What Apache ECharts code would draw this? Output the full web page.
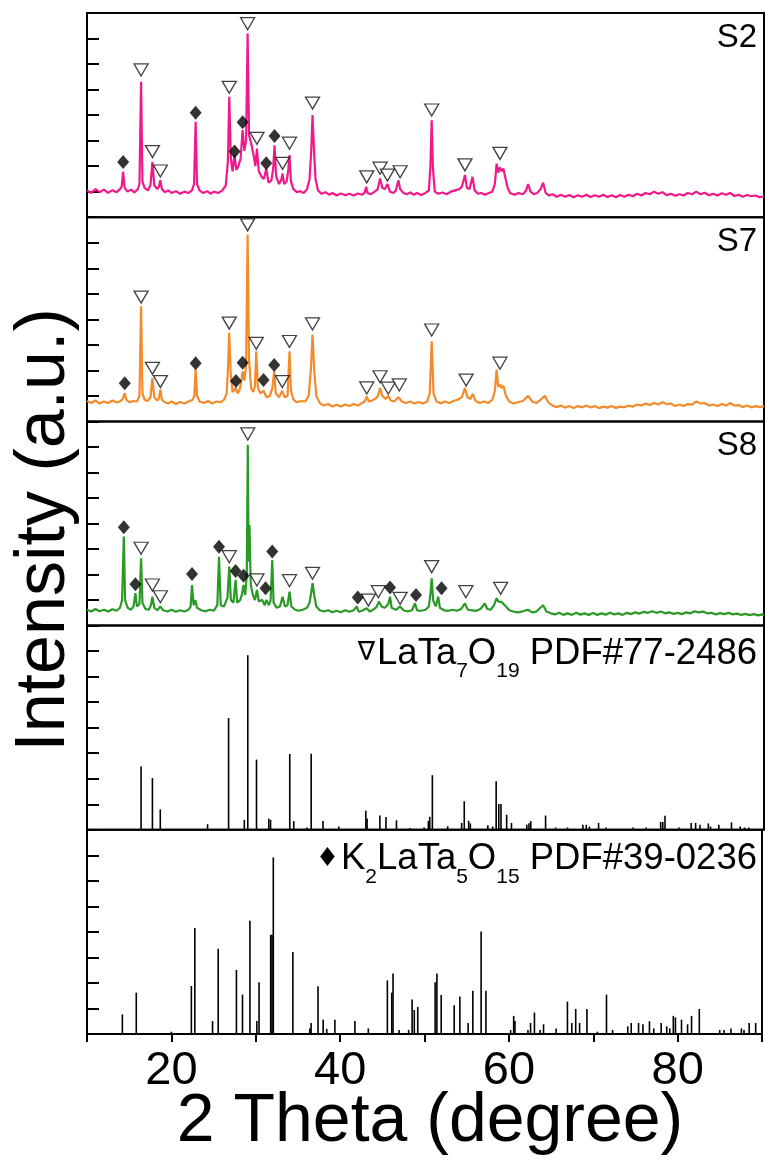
<!DOCTYPE html>
<html>
<head>
<meta charset="utf-8">
<script src="https://cdn.jsdelivr.net/npm/echarts@6/dist/echarts.min.js"></script>
<style>
  html, body { margin: 0; padding: 0; background: #fff; }
  #chart { width: 765px; height: 1162px; }
</style>
</head>
<body>
<div id="chart"></div>
<script>
// 2θ range and tick labels of the shared x axis
const thetaMin = 10;
const thetaMax = 90;
const thetaLabels = [20, 40, 60, 80];

const sampleNames = ["S2", "S7", "S8"];

// measured patterns, [2theta, intensity] (a.u., panel units 0..8)
const s2 = [[10,1.05],[10.5,0.95],[11,1.1],[11.5,0.98],[12,1.08],[12.5,0.95],[13,1.06],[13.5,0.98],[13.9,1.1],
  [14.1,1.2],[14.27,1.78],[14.45,1.15],[14.8,1.0],[15.2,1.08],[15.6,0.97],[16.0,1.1],
  [16.2,1.3],[16.39,5.31],[16.55,1.4],[16.8,1.15],[17.2,1.05],[17.5,1.25],[17.73,2.17],[17.95,1.25],[18.3,1.1],[18.5,1.2],[18.67,1.45],[18.85,1.1],
  [19.2,0.98],[19.6,1.05],[20,0.95],[20.5,1.02],[21,0.92],[21.5,1.0],[22,0.95],[22.4,1.05],
  [22.65,1.3],[22.84,3.74],[23.0,1.3],[23.3,1.05],[23.7,0.95],[24.2,1.02],[24.6,0.92],[25,1.0],[25.5,0.95],[26,1.05],[26.4,1.25],
  [26.65,2.2],[26.81,4.72],[27.0,2.3],[27.2,1.8],[27.44,2.43],[27.65,1.85],[27.9,2.0],[28.15,2.3],[28.39,3.41],[28.6,2.6],[28.8,3.0],
  [28.98,7.2],[29.15,3.2],[29.4,2.9],[29.7,2.4],[29.9,2.0],[30.08,2.69],[30.3,1.8],[30.6,1.6],[30.9,1.5],[31.18,1.9],[31.45,1.35],
  [31.8,1.45],[32.0,1.9],[32.16,2.82],[32.35,1.6],[32.7,1.3],[32.95,1.45],[33.11,1.71],[33.3,1.3],[33.6,1.4],[33.8,1.9],[33.93,2.43],
  [34.1,1.4],[34.4,1.1],[34.8,0.98],[35.2,1.02],[35.6,0.95],[36.0,1.1],[36.3,1.5],[36.5,2.6],[36.65,4.0],[36.8,2.8],[37.0,1.5],
  [37.3,1.05],[37.7,0.92],[38.2,0.98],[38.6,0.88],[39,0.95],[39.5,0.85],[40,0.93],[40.5,0.86],[41,0.92],[41.5,0.85],[42,0.93],
  [42.5,0.88],[42.8,0.95],[42.98,1.19],[43.15,0.95],[43.5,0.9],[44,1.0],[44.35,1.1],[44.63,1.52],[44.9,1.15],[45.2,1.1],[45.5,1.3],
  [45.8,1.0],[46.2,0.95],[46.5,1.05],[46.8,1.45],[47.0,1.1],[47.4,0.95],[47.8,0.9],[48.2,0.97],[48.6,0.88],[49,0.95],[49.5,0.87],
  [50,0.95],[50.4,1.05],[50.58,2.0],[50.73,3.8],[50.88,1.9],[51.1,1.0],[51.5,0.92],[52,0.97],[52.5,0.9],[53,1.0],[53.5,1.05],
  [54.0,1.1],[54.3,1.2],[54.66,1.65],[54.9,1.15],[55.2,1.1],[55.56,1.58],[55.8,1.05],[56.2,0.92],[56.6,0.95],[57,0.88],[57.5,0.95],
  [57.9,1.0],[58.2,1.3],[58.4,2.1],[58.6,1.75],[58.8,1.95],[59.0,1.8],[59.2,1.9],[59.4,1.6],[59.7,1.15],[60,0.95],[60.5,0.88],
  [61,0.95],[61.5,0.9],[61.9,1.05],[62.13,1.3],[62.4,1.0],[62.8,0.9],[63.2,0.95],[63.6,1.1],[63.9,1.35],[64.2,0.95],[64.6,0.85],
  [65,0.9],[65.5,0.8],[66,0.88],[66.5,0.8],[67,0.87],[67.5,0.78],[68,0.86],[68.5,0.8],[69,0.88],[69.5,0.79],[70,0.86],[70.5,0.8],
  [71,0.88],[71.5,0.79],[72,0.86],[72.5,0.78],[73,0.87],[73.5,0.8],[74,0.88],[74.5,0.82],[75,0.92],[75.5,0.85],[76,0.95],[76.5,0.9],
  [77,1.0],[77.5,0.92],[78,0.98],[78.5,0.86],[79,0.92],[79.5,0.84],[80,0.9],[80.5,0.85],[81,0.95],[81.5,0.9],[82,1.0],[82.5,0.9],
  [83,0.96],[83.5,0.86],[84,0.92],[84.5,0.85],[85,0.94],[85.5,0.88],[86,0.95],[86.5,0.83],[87,0.88],[87.5,0.8],[88,0.87],[88.5,0.82],
  [89,0.85],[89.5,0.78],[90,0.82]];

const s7 = [[10,0.8],[10.5,0.72],[11,0.82],[11.5,0.7],[12,0.78],[12.5,0.72],[13,0.82],[13.5,0.74],[14,0.8],[14.25,0.9],[14.46,1.11],
  [14.65,0.85],[15,0.75],[15.5,0.8],[15.9,0.78],[16.2,1.0],[16.39,4.51],[16.55,1.1],[16.8,0.85],[17.2,0.8],[17.5,0.95],[17.73,1.7],
  [17.95,0.95],[18.3,0.82],[18.5,0.9],[18.67,1.24],[18.85,0.85],[19.2,0.75],[19.6,0.7],[20,0.78],[20.5,0.68],[21,0.76],[21.5,0.7],
  [22,0.78],[22.5,0.85],[22.68,1.0],[22.84,2.03],[23.0,1.0],[23.3,0.78],[23.8,0.72],[24.3,0.8],[24.8,0.7],[25.3,0.78],[25.8,0.75],
  [26.2,0.85],[26.5,1.1],[26.65,2.0],[26.81,3.47],[26.98,1.9],[27.2,1.15],[27.4,1.1],[27.6,1.31],[27.8,1.1],[28.0,1.2],[28.2,1.5],
  [28.39,1.96],[28.6,1.6],[28.8,2.2],[28.98,7.32],[29.15,2.4],[29.4,1.3],[29.65,1.15],[29.85,1.4],[30.0,2.75],[30.2,1.3],[30.5,1.1],
  [30.86,1.2],[31.2,0.95],[31.6,1.0],[31.9,1.3],[32.12,1.96],[32.3,1.1],[32.7,0.95],[33.07,1.2],[33.35,0.95],[33.7,1.0],[33.93,2.75],
  [34.1,1.2],[34.4,0.85],[34.8,0.75],[35.3,0.8],[35.8,0.78],[36.2,1.0],[36.45,2.0],[36.65,3.4],[36.85,2.0],[37.1,1.0],[37.5,0.72],
  [38,0.62],[38.5,0.68],[39,0.58],[39.5,0.65],[40,0.58],[40.5,0.66],[41,0.6],[41.5,0.68],[42,0.62],[42.5,0.72],[42.85,0.8],
  [43.06,0.98],[43.3,0.78],[43.7,0.82],[44.1,0.9],[44.4,1.0],[44.63,1.31],[44.9,1.0],[45.3,0.88],[45.6,1.0],[45.9,0.82],[46.3,0.78],
  [46.8,0.95],[47.2,0.78],[47.7,0.72],[48.2,0.78],[48.7,0.7],[49.2,0.76],[49.7,0.7],[50.2,0.78],[50.5,1.1],[50.73,3.14],[50.95,1.1],
  [51.3,0.78],[51.8,0.7],[52.3,0.78],[52.8,0.72],[53.3,0.8],[53.8,0.85],[54.3,0.95],[54.66,1.31],[54.95,0.95],[55.3,0.88],[55.6,1.08],
  [55.9,0.8],[56.4,0.72],[56.9,0.78],[57.4,0.72],[57.9,0.85],[58.2,1.2],[58.4,2.03],[58.6,1.35],[58.8,1.45],[59.0,1.3],[59.2,1.4],
  [59.5,1.0],[59.9,0.78],[60.4,0.7],[60.9,0.75],[61.5,0.8],[62.13,1.0],[62.6,0.78],[63.1,0.72],[63.6,0.85],[64.1,1.0],[64.5,0.75],
  [65,0.62],[65.5,0.56],[66,0.62],[66.5,0.54],[67,0.6],[67.5,0.52],[68,0.6],[68.5,0.55],[69,0.62],[69.5,0.55],[70,0.6],[70.5,0.52],
  [71,0.58],[71.5,0.54],[72,0.6],[72.5,0.53],[73,0.58],[73.5,0.55],[74,0.62],[74.5,0.58],[75,0.66],[75.5,0.62],[76,0.7],[76.5,0.64],
  [77,0.72],[77.5,0.66],[78,0.75],[78.5,0.68],[79,0.7],[79.5,0.6],[80,0.66],[80.5,0.6],[81,0.68],[81.5,0.66],[82,0.78],[82.5,0.7],
  [83,0.72],[83.5,0.62],[84,0.66],[84.5,0.6],[85,0.68],[85.5,0.62],[86,0.72],[86.5,0.62],[87,0.64],[87.5,0.56],[88,0.62],[88.5,0.55],
  [89,0.6],[89.5,0.56],[90,0.6]];

const s8 = [[10,0.62],[10.5,0.55],[11,0.65],[11.5,0.56],[12,0.62],[12.5,0.55],[13,0.64],[13.5,0.58],[13.9,0.7],[14.15,1.0],[14.35,3.49],
  [14.5,1.0],[14.8,0.7],[15.2,0.62],[15.5,0.75],[15.72,1.27],[15.9,0.75],[16.2,0.85],[16.39,2.64],[16.55,0.9],[16.9,0.65],[17.3,0.62],
  [17.55,0.8],[17.73,1.13],[17.95,0.7],[18.3,0.6],[18.67,0.75],[19,0.6],[19.5,0.55],[20,0.62],[20.5,0.54],[21,0.6],[21.5,0.55],
  [22,0.62],[22.25,0.75],[22.41,1.59],[22.6,0.8],[22.8,1.0],[23.0,0.7],[23.5,0.6],[24,0.56],[24.5,0.62],[25,0.58],[25.4,0.8],
  [25.6,2.7],[25.8,0.8],[26.2,0.75],[26.6,1.1],[26.81,2.31],[27.0,1.0],[27.3,0.9],[27.56,1.79],[27.75,0.9],[28.1,1.0],[28.3,1.2],
  [28.5,1.59],[28.7,1.2],[28.88,2.0],[29.0,7.08],[29.1,2.5],[29.2,3.94],[29.35,1.6],[29.6,1.2],[29.85,1.0],[30.08,1.4],[30.3,0.95],
  [30.7,1.0],[31.0,0.8],[31.2,1.0],[31.5,0.8],[31.7,1.0],[31.89,2.57],[32.05,0.9],[32.4,0.7],[32.8,0.75],[33.11,1.13],[33.4,0.75],
  [33.7,0.8],[33.93,1.33],[34.15,0.75],[34.6,0.62],[35,0.58],[35.5,0.62],[36,0.7],[36.3,0.9],[36.5,1.3],[36.65,1.66],[36.85,1.2],
  [37.1,0.75],[37.5,0.6],[38,0.55],[38.5,0.6],[39,0.52],[39.5,0.58],[40,0.52],[40.5,0.6],[41,0.54],[41.5,0.6],[41.88,0.75],
  [42.1,0.55],[42.5,0.58],[43.06,0.68],[43.4,0.55],[43.8,0.62],[44.2,0.72],[44.5,0.94],[44.8,0.75],[45.2,0.7],[45.6,0.85],[45.81,1.13],
  [46.0,0.7],[46.5,0.62],[47.0,0.75],[47.4,0.6],[47.9,0.55],[48.4,0.6],[48.76,0.87],[49.0,0.6],[49.5,0.58],[50.0,0.62],[50.4,0.75],
  [50.6,1.3],[50.73,1.85],[50.9,1.0],[51.2,0.75],[51.5,1.13],[51.7,0.7],[52.2,0.6],[52.7,0.58],[53.2,0.62],[53.7,0.58],[54.2,0.65],
  [54.66,0.87],[55.0,0.62],[55.5,0.6],[56,0.58],[56.5,0.65],[57.0,0.87],[57.3,0.65],[57.7,0.62],[58.1,0.8],[58.4,1.07],[58.6,0.95],
  [58.8,1.0],[59.0,0.92],[59.2,0.98],[59.5,0.75],[59.9,0.6],[60.4,0.55],[60.9,0.52],[61.5,0.56],[62.1,0.62],[62.6,0.52],[63.1,0.55],
  [63.9,0.8],[64.3,0.55],[64.8,0.48],[65.3,0.44],[65.8,0.5],[66.3,0.42],[66.8,0.48],[67.3,0.42],[67.8,0.5],[68.3,0.43],[68.8,0.48],
  [69.3,0.42],[69.8,0.49],[70.3,0.42],[70.8,0.48],[71.3,0.43],[71.8,0.5],[72.3,0.44],[72.8,0.48],[73.3,0.42],[73.8,0.5],[74.3,0.45],
  [74.8,0.52],[75.3,0.47],[75.8,0.54],[76.3,0.5],[76.8,0.56],[77.3,0.5],[77.8,0.55],[78.3,0.48],[78.8,0.52],[79.3,0.46],[79.8,0.5],
  [80.3,0.45],[80.8,0.52],[81.3,0.48],[81.8,0.56],[82.3,0.52],[82.8,0.55],[83.3,0.48],[83.8,0.5],[84.3,0.44],[84.8,0.49],[85.3,0.45],
  [85.8,0.5],[86.3,0.44],[86.8,0.47],[87.3,0.42],[87.8,0.46],[88.3,0.41],[88.8,0.45],[89.3,0.4],[89.8,0.44],[90,0.42]];

// phase markers above peaks: triangles = LaTa7O19, diamonds = K2LaTa5O15
const s2Tri = [[16.39,5.77],[17.73,2.57],[18.67,1.81],[26.81,5.09],[28.98,7.58],[30.08,3.09],[33.11,2.11],[33.93,2.9],[36.65,4.47],
  [43.06,1.58],[44.63,1.92],[45.5,1.65],[47.0,1.78],[50.73,4.2],[54.66,2.05],[58.8,2.5]];
const s2Dia = [[14.27,2.16],[22.84,4.09],[27.44,2.57],[28.39,3.72],[31.18,2.11],[32.16,3.18]];
const s7Tri = [[16.39,4.87],[17.73,2.08],[18.67,1.56],[26.81,3.85],[28.98,7.7],[30.0,3.06],[33.07,1.56],[33.93,3.13],[36.65,3.82],
  [43.06,1.31],[44.63,1.75],[45.6,1.3],[46.9,1.43],[50.73,3.58],[54.8,1.62],[58.8,2.28]];
const s7Dia = [[14.46,1.49],[22.84,2.28],[27.6,1.58],[28.39,2.3],[30.86,1.62],[32.12,2.21]];
const s8Tri = [[16.39,3.03],[17.73,1.59],[18.67,1.13],[26.81,2.7],[29.0,7.51],[30.08,1.79],[33.93,1.76],[36.65,2.05],[43.25,1.0],
  [44.43,1.33],[47.0,1.07],[50.73,2.31],[54.77,1.33],[58.88,1.46]];
const s8Dia = [[14.35,3.85],[15.72,1.62],[22.41,2.02],[25.6,3.09],[27.56,2.14],[28.5,1.95],[31.1,1.46],[31.89,2.9],[42.0,1.1],
  [45.81,1.49],[48.88,1.2],[51.9,1.46]];

// reference cards, [2theta, relative intensity]
const lataSticks = [[16.39,2.48],[17.73,2.03],[18.66,0.8],[24.25,0.22],[26.73,4.38],[28.59,0.39],[29.0,6.84],[30.03,2.75],
  [31.48,0.44],[31.69,0.39],[33.96,2.97],[34.43,0.34],[35.98,0.09],[36.49,2.98],[37.89,0.34],[39.75,0.13],[42.95,0.75],[43.1,0.44],
  [44.61,0.56],[45.33,0.5],[46.57,0.37],[48.17,0.07],[49.83,0.09],[50.34,0.35],[50.5,0.51],[50.81,2.14],[52.62,0.14],[54.27,0.27],
  [54.58,1.12],[55.1,0.35],[55.3,0.25],[57.37,0.18],[57.94,0.13],[58.35,1.9],[58.66,1.01],[58.92,1.01],[59.59,0.59],[60.16,0.27],
  [61.97,0.2],[62.23,0.26],[62.44,0.34],[64.19,0.56],[65.38,0.09],[66.78,0.09],[68.6,0.2],[69.0,0.2],[69.37,0.13],[70.45,0.27],
  [71.33,0.09],[74.53,0.09],[76.08,0.09],[77.79,0.31],[78.04,0.31],[78.3,0.55],[79.96,0.09],[81.4,0.27],[81.92,0.27],[82.44,0.2],
  [83.42,0.25],[83.68,0.13],[84.66,0.2],[86.16,0.29],[87.19,0.13],[87.7,0.09],[88.2,0.09]];
const k2Sticks = [[14.19,0.77],[15.84,1.62],[20.0,0.09],[22.37,1.88],[22.78,4.15],[24.88,0.51],[25.55,3.34],[27.71,2.51],[28.43,1.54],
  [29.31,4.44],[30.13,0.51],[30.39,2.03],[31.77,3.89],[31.93,3.89],[32.08,6.92],[34.4,3.21],[36.4,0.22],[36.56,0.43],[37.38,1.87],
  [37.99,0.56],[38.41,0.2],[39.38,0.56],[41.75,0.51],[43.34,0.22],[45.6,2.1],[46.12,1.62],[46.27,2.37],[46.99,0.16],[48.12,0.16],
  [48.53,1.35],[48.79,0.94],[49.2,1.06],[51.26,2.03],[51.47,2.37],[51.98,1.53],[53.52,1.13],[54.19,1.47],[55.17,0.43],[55.73,1.69],
  [56.71,4.02],[57.28,1.69],[60.21,0.16],[60.57,0.71],[60.72,0.51],[62.26,0.16],[62.57,0.43],[63.03,0.84],[63.7,0.16],[64.11,0.38],
  [65.6,0.22],[66.94,1.27],[67.46,0.43],[67.92,0.98],[68.38,0.43],[69.25,0.98],[70.49,0.09],[71.57,1.54],[72.29,0.16],[74.09,0.3],
  [74.5,0.43],[75.37,0.43],[75.89,0.38],[76.66,0.5],[77.17,0.22],[78.05,0.43],[78.71,0.3],[79.07,0.22],[79.49,0.71],[79.74,0.65],
  [80.46,0.56],[81.18,0.38],[81.65,0.71],[82.57,0.98],[84.99,0.16],[85.5,0.16],[86.32,0.22],[87.56,0.22],[87.87,0.16],[88.48,0.43],
  [89.25,0.43]];

const chart = echarts.init(document.getElementById("chart"), null, { renderer: "canvas" });

const FONT = "'Liberation Sans', Arial, sans-serif";
const SYMFONT = "'DejaVu Sans', sans-serif";
const panelTop = 13;
const panelH = 204.2;
const colors = ["#f2188a", "#f48a2a", "#2a9a26"];

const grids = [], xAxes = [], yAxes = [], series = [];
for (let i = 0; i < 5; i++) {
    const last = i === 4;
    grids.push({
        left: 87, width: 677, top: panelTop + i * panelH, height: panelH,
        show: true, borderColor: "#000", borderWidth: 2
    });
    xAxes.push({
        type: "value", gridIndex: i, min: thetaMin, max: thetaMax, interval: 10,
        axisLine: { show: last, lineStyle: { color: "#000", width: 2 } },
        axisTick: { show: last, length: 8, lineStyle: { color: "#000", width: 2 } },
        axisLabel: {
            show: last, margin: 14, color: "#000", fontSize: 47, fontFamily: FONT, lineHeight: 47,
            formatter: v => (thetaLabels.includes(v) ? String(v) : "")
        },
        splitLine: { show: false }
    });
    yAxes.push({
        type: "value", gridIndex: i, min: 0, max: 8, interval: 1,
        axisLine: { show: true, lineStyle: { color: "#000", width: 2 } },
        axisTick: { show: true, inside: true, length: 12, lineStyle: { color: "#000", width: 2 } },
        axisLabel: { show: false },
        splitLine: { show: false }
    });
}

const patterns = [s2, s7, s8];
const tris = [s2Tri, s7Tri, s8Tri];
const dias = [s2Dia, s7Dia, s8Dia];
patterns.forEach((d, i) => {
    series.push({
        type: "line", xAxisIndex: i, yAxisIndex: i, data: d, showSymbol: false, silent: true,
        lineStyle: { color: colors[i], width: 2.2 }, z: 2
    });
    series.push({
        type: "scatter", xAxisIndex: i, yAxisIndex: i, data: tris[i], silent: true,
        symbol: "triangle", symbolRotate: 180, symbolSize: [14, 12],
        itemStyle: { color: "#fff", borderColor: "#111", borderWidth: 1.3 }, z: 5
    });
    series.push({
        type: "scatter", xAxisIndex: i, yAxisIndex: i, data: dias[i], silent: true,
        symbol: "diamond", symbolSize: [12, 14],
        itemStyle: { color: "#000" }, z: 5
    });
});
[lataSticks, k2Sticks].forEach((d, j) => {
    series.push({
        type: "bar", xAxisIndex: 3 + j, yAxisIndex: 3 + j, data: d, silent: true,
        barWidth: 1.6, itemStyle: { color: "#000" }
    });
});

const graphic = [];
sampleNames.forEach((name, i) => {
    graphic.push({
        type: "text", x: 757, y: panelTop + i * panelH + 25,
        style: { text: name, fontSize: 33, fontFamily: FONT, fill: "#000", align: "right", verticalAlign: "middle" }
    });
});
const richLabel = {
    m: { fontSize: 36.5, fontFamily: FONT, color: "#000" },
    s: { fontSize: 21, fontFamily: FONT, color: "#000", padding: [36, 0, 0, 0] },
    sym: { fontSize: 26, fontFamily: SYMFONT, color: "#000", padding: [0, 2, 0, 0] }
};
graphic.push({
    type: "text", x: 757, y: panelTop + 3 * panelH + 28,
    style: {
        text: "{sym|∇}{m|LaTa}{s|7}{m|O}{s|19}{m| PDF#77-2486}",
        align: "right", verticalAlign: "middle", rich: richLabel
    }
});
graphic.push({
    type: "text", x: 757, y: panelTop + 4 * panelH + 29,
    style: {
        text: "{sym|♦}{m|K}{s|2}{m|LaTa}{s|5}{m|O}{s|15}{m| PDF#39-0236}",
        align: "right", verticalAlign: "middle", rich: richLabel
    }
});
graphic.push({
    type: "text", x: 430, y: 1122,
    style: { text: "2 Theta (degree)", fontSize: 68, fontFamily: FONT, fill: "#000", align: "center", verticalAlign: "middle" }
});
graphic.push({
    type: "text", x: 45, y: 530, rotation: Math.PI / 2,
    style: { text: "Intensity (a.u.)", fontSize: 70, fontFamily: FONT, fill: "#000", align: "center", verticalAlign: "middle" }
});

chart.setOption({
    animation: false,
    backgroundColor: "#fff",
    grid: grids,
    xAxis: xAxes,
    yAxis: yAxes,
    series: series,
    graphic: graphic
});
</script>
</body>
</html>
